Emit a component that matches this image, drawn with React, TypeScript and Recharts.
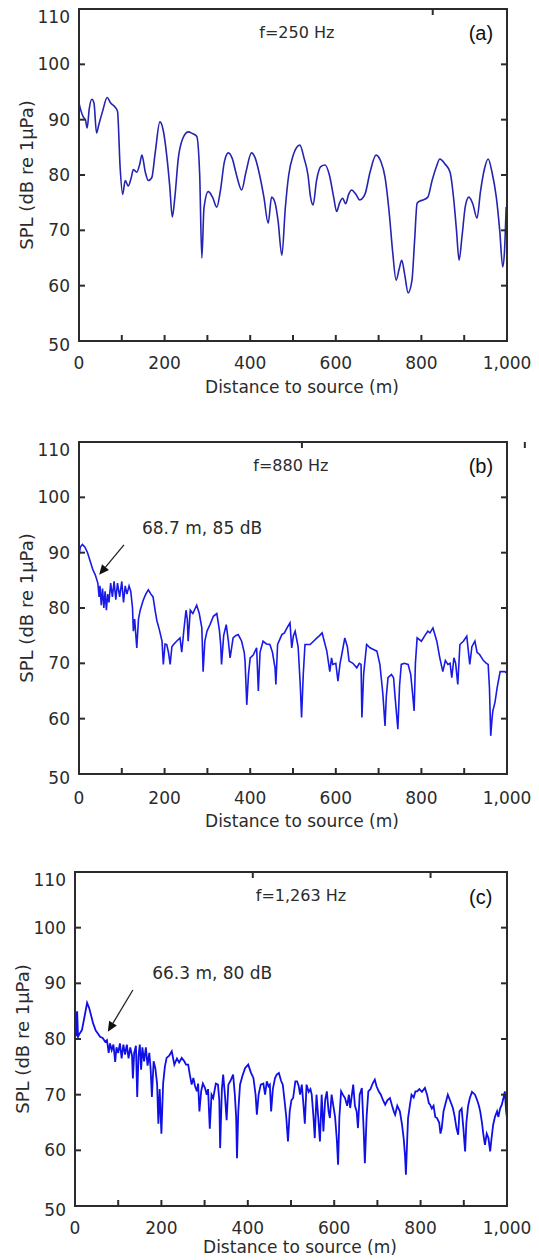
import { LineChart, Line, XAxis, YAxis, ReferenceLine, ReferenceDot, Label } from 'recharts'

const FONT = '"DejaVu Sans", Verdana, sans-serif'
const INK = '#2b2b2b'

// ── shared axes ──
const xTicks = [0, 100, 200, 300, 400, 500, 600, 700, 800, 900, 1000]
const yTicks = [50, 60, 70, 80, 90, 100, 110]

// ── (a) f = 250 Hz ──
const distA = [
  0, 5, 10, 15, 19, 24, 30, 35, 41, 46, 55, 66, 74, 84, 90, 96, 102, 108, 115, 122,
  127, 135, 142, 147, 155, 162, 170, 178, 189, 197, 205, 212, 218, 224, 232, 242, 255, 265, 275, 282,
  287, 292, 302, 312, 322, 330, 340, 349, 358, 368, 380, 390, 403, 412, 422, 432, 442, 450, 458, 465,
  474, 482, 490, 500, 516, 526, 535, 541, 547, 555, 565, 575, 585, 595, 602, 609, 616, 623, 630, 637,
  647, 656, 668, 680, 694, 705, 715, 725, 733, 741, 748, 754, 761, 769, 778, 784, 790, 797, 804, 815,
  825, 835, 843, 855, 867, 875, 882, 888, 895, 903, 911, 920, 930, 938, 947, 956, 965, 975, 983, 990,
  994, 998,
]
const splA = [
  93, 91.5, 90.5, 90, 88.5, 92, 93.7, 93, 87.6, 89, 91.5, 94, 93, 92.3, 91.5, 81.5, 76.5, 79, 78, 79.5,
  81, 80.5, 82, 83.6, 80.5, 79, 79.5, 84, 89.6, 88, 83.5, 78, 72.4, 76, 83, 86.5, 87.8, 87.5, 87, 80,
  65, 74, 77, 76, 74.2, 77, 82.5, 84, 83, 80, 77.3, 80.5, 84, 83, 80, 76, 71.3, 76, 75, 71.8,
  65.5, 74, 80, 83.5, 85.4, 83, 80, 76, 74.6, 79, 81.5, 81.8, 80, 76, 73.4, 75, 75.8, 74.8, 76.5, 77.3,
  76.5, 75.5, 76.5, 80.5, 83.6, 82.5, 79.6, 73, 66, 61, 63, 64.6, 62, 58.7, 61, 68, 74.9, 75.3, 75.5, 76,
  79, 81.5, 82.9, 82, 80.5, 76, 70, 64.6, 69, 74.5, 76, 74.8, 72.2, 77, 81, 82.9, 80.5, 76, 70, 63.4,
  66, 74.2,
]

// ── (b) f = 880 Hz ──
const distB = [
  0, 3, 8, 14, 20, 26, 32, 38, 44, 47, 49, 52, 55, 58, 61, 64, 67, 70, 74, 78,
  82, 86, 90, 95, 100, 104, 108, 112, 117, 121, 125, 127, 130, 135, 139, 143, 150, 156, 162, 168,
  173, 178, 182, 188, 194, 197, 201, 205, 209, 213, 217, 221, 228, 236, 240, 245, 250, 253, 255, 260,
  266, 275, 281, 287, 290, 294, 299, 306, 314, 322, 328, 331, 333, 338, 344, 349, 353, 357, 360, 366,
  372, 380, 386, 388, 392, 396, 400, 407, 415, 419, 423, 430, 438, 446, 452, 458, 460, 464, 474, 480,
  486, 493, 497, 501, 505, 512, 517, 520, 524, 528, 540, 548, 556, 562, 568, 573, 579, 586, 590, 593,
  600, 605, 610, 614, 621, 627, 631, 640, 649, 655, 659, 661, 665, 672, 680, 688, 696, 703, 708, 710,
  715, 718, 722, 730, 735, 738, 745, 749, 753, 760, 769, 775, 780, 783, 786, 790, 800, 808, 815, 820,
  827, 836, 843, 850, 856, 862, 867, 871, 876, 880, 885, 890, 898, 906, 910, 913, 918, 925, 930, 936,
  945, 952, 956, 959, 962, 965, 967, 972, 977, 984, 990, 995, 1000,
]
const splB = [
  89.3, 91, 91.5, 91, 90, 88.5, 87, 86, 84.5, 82, 84, 80.5, 83.5, 80, 83, 79.6, 82.5, 81, 84.5, 82,
  84.8, 81.5, 84.5, 82, 84.8, 81, 84, 82.5, 84, 83, 80, 75.8, 78, 72.8, 78, 79.6, 81.4, 82.5, 83.3, 82.5,
  82, 79.5, 77.7, 76, 74, 69.8, 73.5, 73.4, 72, 69.8, 73, 73.4, 74, 74.6, 72, 76, 79.6, 78, 74, 79.6,
  79, 80.5, 79, 76.4, 68.5, 74, 75.8, 77, 78.5, 79, 76, 73.4, 69.8, 75, 77, 74, 71, 73, 74.6, 75,
  75.2, 74, 72, 70.4, 62.5, 68, 71, 71.5, 72.8, 65, 72, 74, 73.5, 73.4, 72, 69.2, 66.2, 73.4, 75.2, 75.5,
  76.4, 77.3, 72.8, 75, 75.8, 73, 66, 60.2, 68, 73.4, 73.4, 74, 74.6, 75, 75.5, 74, 72.2, 68.5, 71, 69.8,
  70, 66.8, 70, 71.6, 74.6, 73, 70.4, 70, 69.2, 70, 69.8, 60.2, 68, 73.4, 72.8, 72.5, 72.2, 69.8, 66, 64.4,
  58.7, 64, 67.4, 68, 67.4, 64.4, 58.1, 66, 69.8, 70, 69.8, 68, 64, 61.4, 70, 74.6, 74, 75, 75.8, 75.5,
  76.4, 74, 71, 68.5, 70.5, 69.8, 70, 67.4, 71, 70, 66.2, 73.4, 74, 74.9, 72, 69.8, 73, 74, 72, 71.6,
  70.5, 70, 69.8, 65.6, 56.9, 60, 61.4, 63, 65.6, 68.5, 68.5, 68.5, 68.2,
]

// ── (c) f = 1,263 Hz ──
const distC = [
  0, 3, 5, 7, 11, 16, 22, 28, 33, 38, 42, 48, 53, 58, 64, 70, 74, 78, 81, 85,
  89, 93, 96, 100, 104, 108, 112, 116, 120, 124, 128, 132, 134, 137, 141, 144, 147, 150, 153, 156,
  160, 164, 168, 172, 175, 178, 182, 186, 190, 193, 196, 200, 204, 208, 212, 218, 224, 230, 236, 241,
  247, 253, 257, 262, 266, 270, 274, 278, 282, 285, 288, 292, 296, 301, 305, 308, 312, 316, 320, 326,
  331, 334, 336, 340, 343, 347, 351, 355, 360, 366, 370, 373, 375, 378, 382, 388, 394, 401, 407, 413,
  418, 421, 425, 430, 436, 440, 444, 448, 451, 454, 458, 463, 467, 472, 477, 481, 485, 489, 493, 497,
  501, 505, 510, 514, 518, 521, 525, 529, 532, 536, 541, 545, 548, 552, 555, 559, 563, 567, 571, 575,
  579, 583, 587, 590, 594, 598, 602, 606, 609, 612, 616, 620, 625, 630, 634, 637, 641, 644, 648, 652,
  655, 659, 664, 668, 671, 675, 679, 684, 689, 694, 698, 703, 708, 713, 718, 723, 729, 734, 738, 741,
  746, 752, 757, 761, 764, 766, 769, 771, 775, 779, 784, 788, 792, 797, 803, 810, 815, 819, 822, 826,
  830, 834, 838, 843, 846, 849, 853, 858, 863, 868, 872, 875, 879, 883, 887, 890, 895, 899, 903, 906,
  910, 914, 919, 926, 931, 935, 938, 942, 945, 949, 953, 957, 961, 964, 968, 972, 977, 980, 984, 988,
  992, 995, 998, 1000,
]
const splC = [
  85.8, 80.5, 85, 80.4, 81, 81.6, 84, 86.5, 85.5, 84, 82.8, 81.5, 81, 80.4, 80.2, 79.5, 79.8, 77.5, 79.2, 78,
  79, 75.9, 78.5, 77.5, 79.2, 76.5, 79, 77.2, 79, 76.5, 78.5, 77, 72.9, 77.5, 78.8, 69.6, 77, 79, 74.5, 78.5,
  76, 78.5, 75.2, 77.5, 74.7, 69.6, 76, 74.7, 72, 64.8, 71, 63, 72, 75, 76.6, 77, 77.8, 75.4, 76.5, 75.8,
  76.6, 76, 75.4, 75.4, 73.5, 71.8, 73, 71.5, 70.6, 72, 67, 70.6, 72, 71.2, 70, 71, 63.9, 70, 69.4, 72,
  71.8, 69, 60.4, 71, 73.6, 70, 65.4, 71.8, 72.5, 73.6, 70, 66, 58.6, 67, 71.8, 73.5, 74.8, 75.4, 74, 73,
  70, 66.4, 70, 71.8, 72, 70, 72.4, 71.5, 71.8, 67, 71, 73, 73.6, 73.9, 72.5, 71.8, 69, 66, 61.6, 67,
  69, 69.4, 72.4, 72.4, 71.5, 70, 71.8, 68, 64.8, 71.8, 70.5, 71, 70, 66, 62.2, 70, 66, 61.6, 70, 63.4,
  69, 70.6, 67, 65.8, 70, 68, 66, 62, 57.4, 66, 70.6, 70, 69.4, 68, 70, 67.6, 70, 71.8, 68, 67,
  64, 70, 71.2, 64, 57.7, 66, 70.6, 71, 72, 72.7, 71.5, 70.6, 70, 69, 68.2, 69, 69.4, 68, 67, 66.4,
  68, 67, 64.6, 62, 59, 55.6, 62, 65.8, 68, 70, 69.5, 70.6, 70.6, 71, 70.5, 71.2, 70, 68.5, 68.2, 67.5,
  68, 66, 65.8, 65, 63, 64, 67, 68.5, 70, 69, 68.2, 67.5, 66, 64, 62.8, 67, 67.5, 64, 59.8, 65,
  68, 69.4, 70.5, 70, 69, 68, 67, 65, 63, 61, 63, 62.2, 59.8, 62, 64.6, 66, 67, 66, 67.5, 68.2,
  69.5, 70.6, 67, 65.8,
]

type Row = { d: number; spl: number }
const toRows = (d: number[], s: number[]): Row[] => d.map((v, i) => ({ d: v, spl: s[i] }))

const TICK_LEN = 6
const TICK_W = 2

// tick marks point into the plot, like the original figure
function BottomTick({ x, y, payload, gap }: any) {
  const v = payload.value as number
  const base = y - gap
  return (
    <g>
      <line x1={x} x2={x} y1={base} y2={base - TICK_LEN} stroke={INK} strokeWidth={TICK_W} />
      {v % 200 === 0 && (
        <text x={x} y={y} dy="0.71em" textAnchor="middle" fill={INK} fontSize={17} fontFamily={FONT}>
          {v.toLocaleString('en-US')}
        </text>
      )}
    </g>
  )
}

function LeftTick({ x, y, payload, gap }: any) {
  const v = payload.value as number
  const base = x + gap
  // the extreme labels sit a little lower in the original
  const shift = v === 110 ? 8 : v === 50 ? 4 : 0
  return (
    <g>
      <line x1={base} x2={base + TICK_LEN} y1={y} y2={y} stroke={INK} strokeWidth={TICK_W} />
      <text x={x} y={y + shift} dy="0.36em" textAnchor="end" fill={INK} fontSize={17} fontFamily={FONT}>
        {v}
      </text>
    </g>
  )
}

function TopTick({ x, y }: any) {
  return <line x1={x} x2={x} y1={y} y2={y + TICK_LEN} stroke={INK} strokeWidth={TICK_W} />
}

function RightTick({ x, y }: any) {
  return <line x1={x} x2={x - TICK_LEN} y1={y} y2={y} stroke={INK} strokeWidth={TICK_W} />
}

const ArrowShape = (p: any) => {
  const { x1, y1, x2, y2 } = p
  const ang = Math.atan2(y2 - y1, x2 - x1)
  const len = 10
  const half = 4.5
  const bx = x2 - len * Math.cos(ang)
  const by = y2 - len * Math.sin(ang)
  const nx = -Math.sin(ang) * half
  const ny = Math.cos(ang) * half
  return (
    <g>
      <line x1={x1} y1={y1} x2={bx} y2={by} stroke="#222" strokeWidth={1.3} />
      <polygon points={`${x2},${y2} ${bx + nx},${by + ny} ${bx - nx},${by - ny}`} fill="#111" />
    </g>
  )
}

type PanelProps = {
  top: number
  height: number
  axisLeft: number
  plotH: number
  axisH: number
  tickGap: number
  titleDrop: number
  rows: Row[]
  color: string
  width: number
  curve: 'linear' | 'monotone'
  freq: string
  freqX: number
  tag: string
  note?: { text: string; x: number; y: number; from: [number, number]; to: [number, number] }
}

function SplPanel(p: PanelProps) {
  const plotW = 539 - 32 - p.axisLeft
  return (
    <div style={{ position: 'absolute', left: 0, top: p.top, width: 539, height: p.height }}>
      <LineChart
        width={539}
        height={p.height}
        data={p.rows}
        margin={{ top: 8, right: 31, left: 0, bottom: 0 }}
      >
        <XAxis
          type="number"
          dataKey="d"
          domain={[0, 1000]}
          ticks={xTicks}
          interval={0}
          height={p.axisH}
          tickSize={0}
          tickMargin={p.tickGap}
          axisLine={false}
          tickLine={false}
          tick={(t: any) => <BottomTick {...t} gap={p.tickGap} />}
        >
          <Label
            content={(lp: any) => {
              const vb = lp.viewBox
              return (
                <text
                  x={vb.x + vb.width / 2 + 9}
                  y={vb.y + p.titleDrop}
                  textAnchor="middle"
                  fill={INK}
                  fontSize={17}
                  fontFamily={FONT}
                >
                  Distance to source (m)
                </text>
              )
            }}
          />
        </XAxis>
        <XAxis
          xAxisId="top"
          orientation="top"
          type="number"
          domain={[0, 1000]}
          allowDataOverflow
          ticks={xTicks}
          interval={0}
          height={1}
          tickSize={0}
          tickMargin={0}
          axisLine={false}
          tickLine={false}
          tick={(t: any) => <TopTick {...t} />}
        />
        <YAxis
          type="number"
          domain={[50, 110]}
          ticks={yTicks}
          interval={0}
          width={p.axisLeft}
          tickSize={0}
          tickMargin={9}
          axisLine={false}
          tickLine={false}
          tick={(t: any) => <LeftTick {...t} gap={9} />}
        >
          <Label
            content={(lp: any) => {
              const vb = lp.viewBox
              const cx = p.axisLeft - 53
              const cy = vb.y + vb.height / 2
              return (
                <text
                  x={cx}
                  y={cy}
                  transform={`rotate(-90, ${cx}, ${cy})`}
                  textAnchor="middle"
                  dominantBaseline="central"
                  fill={INK}
                  fontSize={18}
                  fontFamily={FONT}
                >
                  SPL (dB re 1μPa)
                </text>
              )
            }}
          />
        </YAxis>
        <YAxis
          yAxisId="right"
          orientation="right"
          type="number"
          domain={[50, 110]}
          allowDataOverflow
          ticks={yTicks}
          interval={0}
          width={1}
          tickSize={0}
          tickMargin={0}
          axisLine={false}
          tickLine={false}
          tick={(t: any) => <RightTick {...t} />}
        />
        <Line
          type={p.curve}
          dataKey="spl"
          stroke={p.color}
          strokeWidth={p.width}
          dot={false}
          isAnimationActive={false}
        />
        <ReferenceDot
          x={p.freqX}
          y={105.8}
          r={0}
          fill="none"
          stroke="none"
          label={{ value: p.freq, position: 'center', fill: INK, fontSize: 16, fontFamily: FONT }}
        />
        <ReferenceDot
          x={939}
          y={105.6}
          r={0}
          fill="none"
          stroke="none"
          label={{ value: p.tag, position: 'center', fill: '#111', fontSize: 20, fontFamily: '"Liberation Sans", Arial, sans-serif' }}
        />
        {p.note && (
          <ReferenceDot
            x={p.note.x}
            y={p.note.y}
            r={0}
            fill="none"
            stroke="none"
            label={{ value: p.note.text, position: 'right', fill: INK, fontSize: 17, fontFamily: FONT }}
          />
        )}
        {p.note && (
          <ReferenceLine
            segment={[
              { x: p.note.from[0], y: p.note.from[1] },
              { x: p.note.to[0], y: p.note.to[1] },
            ]}
            shape={ArrowShape}
          />
        )}
      </LineChart>
      {/* plot frame */}
      <div
        style={{
          position: 'absolute',
          left: p.axisLeft - 1,
          top: 8,
          width: plotW + 2,
          height: p.plotH + 2,
          border: `2px solid ${INK}`,
          boxSizing: 'border-box',
          pointerEvents: 'none',
        }}
      />
    </div>
  )
}

export default function App() {
  return (
    <div
      style={{
        position: 'absolute',
        left: 0,
        top: 0,
        width: 539,
        height: 1260,
        background: '#fff',
        overflow: 'hidden',
      }}
    >
      <SplPanel
        top={0}
        height={400}
        axisLeft={79}
        plotH={332}
        axisH={59}
        tickGap={16}
        titleDrop={52}
        rows={toRows(distA, splA)}
        color="#2424b0"
        width={1.6}
        curve="monotone"
        freq="f=250 Hz"
        freqX={509}
        tag="(a)"
      />
      <SplPanel
        top={433}
        height={401}
        axisLeft={79}
        plotH={332}
        axisH={60}
        tickGap={18}
        titleDrop={53}
        rows={toRows(distB, splB)}
        color="#1a1ae6"
        width={1.6}
        curve="linear"
        freq="f=880 Hz"
        freqX={495}
        tag="(b)"
        note={{ text: '68.7 m, 85 dB', x: 135.5, y: 94.5, from: [105, 91.4], to: [47, 86] }}
      />
      <SplPanel
        top={863}
        height={397}
        axisLeft={75}
        plotH={334}
        axisH={54}
        tickGap={16}
        titleDrop={47}
        rows={toRows(distC, splC)}
        color="#1010e6"
        width={1.8}
        curve="linear"
        freq="f=1,263 Hz"
        freqX={523}
        tag="(c)"
        note={{ text: '66.3 m, 80 dB', x: 167, y: 91.9, from: [134, 88.8], to: [76, 81.3] }}
      />
    </div>
  )
}
